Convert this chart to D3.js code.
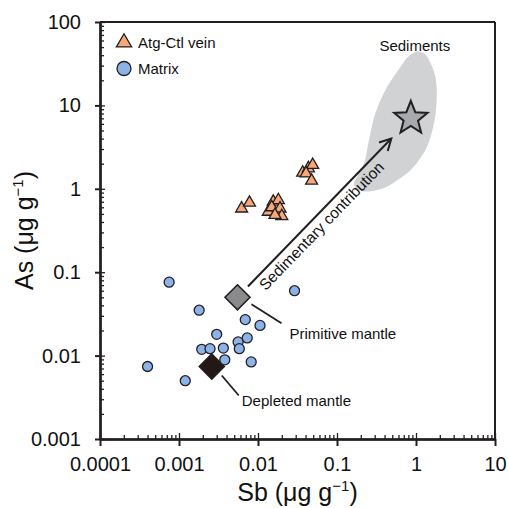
<!DOCTYPE html>
<html>
<head>
<meta charset="utf-8">
<script src="https://cdn.jsdelivr.net/npm/d3@7"></script>
<style>
  html, body { margin: 0; padding: 0; background: #fff; }
  svg { display: block; font-family: "Liberation Sans", Arial, Helvetica, sans-serif; }
</style>
</head>
<body>
<svg id="chart" width="508" height="508"></svg>
<script>
// ---------- data ----------
const xTickValues = [0.0001, 0.001, 0.01, 0.1, 1, 10];
const xTickLabels = ["0.0001", "0.001", "0.01", "0.1", "1", "10"];
const yTickValues = [0.001, 0.01, 0.1, 1, 10, 100];
const yTickLabels = ["0.001", "0.01", "0.1", "1", "10", "100"];

// Matrix (circles)
const matrixSb = [0.00075, 0.0018, 0.0069, 0.0106, 0.0030, 0.0073, 0.0056, 0.0058, 0.00194, 0.00247, 0.00364, 0.0038, 0.0082, 0.0004, 0.0012, 0.029];
const matrixAs = [0.076, 0.035, 0.027, 0.023, 0.018, 0.0163, 0.0146, 0.0121, 0.0119, 0.0121, 0.0123, 0.0089, 0.0084, 0.0074, 0.0050, 0.060];

// Atg-Ctl vein (triangles)
const veinSb = [0.0062, 0.0078, 0.0135, 0.0156, 0.0181, 0.0149, 0.019, 0.020, 0.0164, 0.0368, 0.0434, 0.0492, 0.0406, 0.0477];
const veinAs = [0.58, 0.68, 0.53, 0.70, 0.73, 0.60, 0.58, 0.47, 0.485, 1.56, 1.76, 1.93, 1.53, 1.25];

// Reference reservoirs
const primitiveMantle = { Sb: 0.0055, As: 0.05 };
const depletedMantle = { Sb: 0.0026, As: 0.0074 };
const sediments = { Sb: 0.86, As: 7.0 };

// Sediment field outline (Sb, As)
const sedimentFieldSb = [1.03, 1.30, 1.53, 1.74, 1.83, 1.79, 1.64, 1.38, 1.09, 0.857, 0.61, 0.43, 0.303, 0.22, 0.179, 0.164, 0.185, 0.22, 0.254, 0.309, 0.434, 0.64, 0.79];
const sedimentFieldAs = [44.3, 41.3, 32.0, 23.1, 15.3, 8.8, 5.36, 3.2, 2.21, 1.68, 1.31, 1.06, 0.955, 0.93, 0.995, 1.14, 1.46, 2.02, 3.85, 8.3, 16.8, 29.1, 38.1];

// ---------- layout ----------
const W = 508, H = 508;
const m = { left: 100, right: 13, top: 22, bottom: 69 };
const svg = d3.select("#chart");
const ink = "#231f20";

const x = d3.scaleLog().domain([1e-4, 10]).range([m.left, W - m.right]);
const y = d3.scaleLog().domain([1e-3, 100]).range([H - m.bottom, m.top]);

function minorTicks(decades) {
  const out = [];
  for (let i = 0; i < decades.length - 1; i++)
    for (let k = 2; k <= 9; k++) out.push(decades[i] * k);
  return out;
}

// ---------- sediment field ----------
const fieldPts = sedimentFieldSb.map((s, i) => [s, sedimentFieldAs[i]]);
svg.append("path")
  .attr("d", d3.line().x(d => x(d[0])).y(d => y(d[1])).curve(d3.curveCatmullRomClosed.alpha(0.5))(fieldPts))
  .attr("fill", "#d1d2d4").attr("stroke", "none");

// ---------- axes ----------
const fmtX = d => xTickLabels[xTickValues.indexOf(d)];
const fmtY = d => yTickLabels[yTickValues.indexOf(d)];

const gx = svg.append("g").attr("transform", `translate(0,${H - m.bottom})`);
gx.append("g").call(d3.axisBottom(x).tickValues(minorTicks(xTickValues)).tickSize(-4).tickSizeOuter(0).tickFormat(""));
gx.append("g").call(d3.axisBottom(x).tickValues(xTickValues).tickSize(-6).tickSizeOuter(0).tickFormat(""));
gx.append("g").attr("class", "lab").call(d3.axisBottom(x).tickValues(xTickValues).tickSize(7).tickSizeOuter(0).tickPadding(11).tickFormat(fmtX));

const gy = svg.append("g").attr("transform", `translate(${m.left},0)`);
gy.append("g").call(d3.axisLeft(y).tickValues(minorTicks(yTickValues)).tickSize(-4).tickSizeOuter(0).tickFormat(""));
gy.append("g").call(d3.axisLeft(y).tickValues(yTickValues).tickSize(-5).tickSizeOuter(0).tickFormat(""));
gy.append("g").attr("class", "lab").call(d3.axisLeft(y).tickValues(yTickValues).tickSize(5).tickSizeOuter(0).tickPadding(14).tickFormat(fmtY));

svg.selectAll(".domain").attr("stroke", ink).attr("stroke-width", 2);
svg.selectAll(".tick line").attr("stroke", ink).attr("stroke-width", 1.3);
svg.selectAll(".lab .tick line").attr("stroke-width", 2);
svg.selectAll(".lab text").attr("font-size", 20).attr("fill", "#111").attr("font-family", "Liberation Sans, Arial, sans-serif");

// top & right frame
svg.append("line").attr("x1", m.left).attr("x2", W - m.right).attr("y1", m.top).attr("y2", m.top).attr("stroke", ink).attr("stroke-width", 2);
svg.append("line").attr("x1", W - m.right).attr("x2", W - m.right).attr("y1", m.top).attr("y2", H - m.bottom).attr("stroke", ink).attr("stroke-width", 2);

// ---------- axis titles ----------
const xt = svg.append("text").attr("x", (m.left + W - m.right) / 2).attr("y", 501)
  .attr("text-anchor", "middle").attr("font-size", 25).attr("fill", "#111");
xt.append("tspan").text("Sb (μg g");
xt.append("tspan").attr("font-size", 15).attr("dy", -10).text("−1");
xt.append("tspan").attr("dy", 10).text(")");

const yt = svg.append("text").attr("transform", `translate(33,${(m.top + H - m.bottom) / 2}) rotate(-90)`)
  .attr("text-anchor", "middle").attr("font-size", 25).attr("fill", "#111");
yt.append("tspan").text("As (μg g");
yt.append("tspan").attr("font-size", 15).attr("dy", -10).text("−1");
yt.append("tspan").attr("dy", 10).text(")");

// ---------- arrow (primitive mantle -> sediments) ----------
const p0 = [x(primitiveMantle.Sb), y(primitiveMantle.As)];
const p1 = [x(sediments.Sb), y(sediments.As)];
const dx = p1[0] - p0[0], dy = p1[1] - p0[1];
const L = Math.hypot(dx, dy), ux = dx / L, uy = dy / L;
const a0 = [p0[0] + ux * 15, p0[1] + uy * 15];
const a1 = [p0[0] + ux * (L - 28), p0[1] + uy * (L - 28)];
svg.append("line").attr("x1", a0[0]).attr("y1", a0[1]).attr("x2", a1[0]).attr("y2", a1[1])
  .attr("stroke", ink).attr("stroke-width", 2);
const ang = Math.atan2(uy, ux);
const headLen = 13, headAng = 28 * Math.PI / 180;
const hp = [
  [a1[0] - headLen * Math.cos(ang - headAng), a1[1] - headLen * Math.sin(ang - headAng)],
  a1,
  [a1[0] - headLen * Math.cos(ang + headAng), a1[1] - headLen * Math.sin(ang + headAng)]
];
svg.append("path").attr("d", d3.line()(hp)).attr("fill", "none").attr("stroke", ink).attr("stroke-width", 2)
  .attr("stroke-linejoin", "miter");

// arrow label (parallel to arrow, offset below-right)
const along = 9, off = 16;
svg.append("text")
  .attr("transform", `translate(${a0[0] + ux * along - uy * off},${a0[1] + uy * along + ux * off}) rotate(${ang * 180 / Math.PI})`)
  .attr("font-size", 15.5).attr("fill", "#111").text("Sedimentary contribution");

// ---------- sediments star ----------
function starPath(cx, cy, R, r) {
  const pts = [];
  for (let i = 0; i < 10; i++) {
    const rr = i % 2 === 0 ? R : r;
    const a = -Math.PI / 2 + i * Math.PI / 5;
    pts.push([cx + rr * Math.cos(a), cy + rr * Math.sin(a)]);
  }
  return d3.line()(pts) + "Z";
}
svg.append("path").attr("d", starPath(x(sediments.Sb), y(sediments.As), 17.5, 7.6))
  .attr("fill", "#a7a9ac").attr("stroke", ink).attr("stroke-width", 2).attr("stroke-linejoin", "miter");
svg.append("text").attr("x", x(sediments.Sb) + 4).attr("y", 50.5).attr("text-anchor", "middle")
  .attr("font-size", 15).attr("fill", "#111").text("Sediments");

// ---------- mantle diamonds ----------
function diamond(cx, cy, h) {
  return `M${cx},${cy - h}L${cx + h},${cy}L${cx},${cy + h}L${cx - h},${cy}Z`;
}
const pm = [x(primitiveMantle.Sb), y(primitiveMantle.As)];
const dm = [x(depletedMantle.Sb), y(depletedMantle.As)];

svg.append("line").attr("x1", pm[0] + 14).attr("y1", pm[1] + 7).attr("x2", pm[0] + 44).attr("y2", pm[1] + 26)
  .attr("stroke", ink).attr("stroke-width", 1.8);
svg.append("line").attr("x1", dm[0] + 10).attr("y1", dm[1] + 9).attr("x2", dm[0] + 27).attr("y2", dm[1] + 29)
  .attr("stroke", ink).attr("stroke-width", 1.8);

svg.append("path").attr("d", diamond(pm[0], pm[1], 12.5)).attr("fill", "#8a8a8c").attr("stroke", ink).attr("stroke-width", 1.6);
svg.append("path").attr("d", diamond(dm[0], dm[1], 12.5)).attr("fill", "#231815").attr("stroke", ink).attr("stroke-width", 1.6);

svg.append("text").attr("x", pm[0] + 52).attr("y", pm[1] + 42).attr("font-size", 15).attr("fill", "#111").text("Primitive mantle");
svg.append("text").attr("x", dm[0] + 30).attr("y", dm[1] + 39).attr("font-size", 15).attr("fill", "#111").text("Depleted mantle");

// ---------- data points ----------
const tri = d3.symbol().type(d3.symbolTriangle).size(62);
svg.append("g").selectAll("path").data(veinSb.map((s, i) => [s, veinAs[i]])).join("path")
  .attr("d", tri).attr("transform", d => `translate(${x(d[0])},${y(d[1])})`)
  .attr("fill", "#f6a878").attr("stroke", ink).attr("stroke-width", 1.3).attr("stroke-linejoin", "miter");

svg.append("g").selectAll("circle").data(matrixSb.map((s, i) => [s, matrixAs[i]])).join("circle")
  .attr("cx", d => x(d[0])).attr("cy", d => y(d[1])).attr("r", 5)
  .attr("fill", "#8db2e8").attr("stroke", ink).attr("stroke-width", 1.3);

// ---------- legend ----------
svg.append("path").attr("d", d3.symbol().type(d3.symbolTriangle).size(100)()).attr("transform", "translate(124,42.5)")
  .attr("fill", "#f6a878").attr("stroke", ink).attr("stroke-width", 1.3);
svg.append("text").attr("x", 138).attr("y", 47.5).attr("font-size", 15).attr("fill", "#111").text("Atg-Ctl vein");
svg.append("circle").attr("cx", 124).attr("cy", 68.5).attr("r", 7)
  .attr("fill", "#8db2e8").attr("stroke", ink).attr("stroke-width", 1.3);
svg.append("text").attr("x", 138).attr("y", 74).attr("font-size", 15).attr("fill", "#111").text("Matrix");
</script>
</body>
</html>
